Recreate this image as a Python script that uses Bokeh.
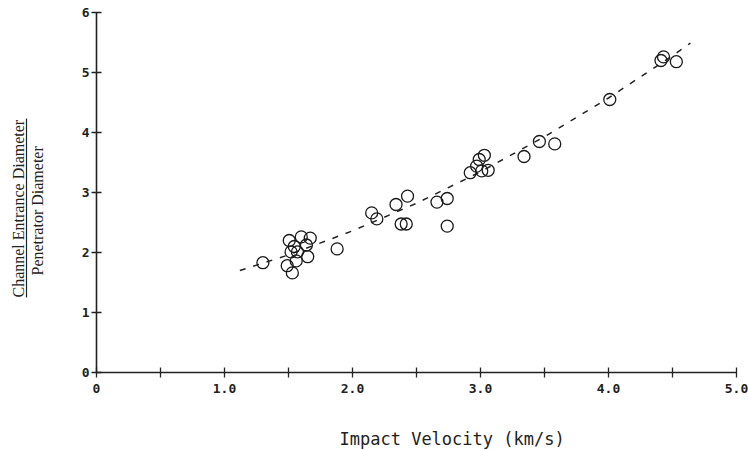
from bokeh.plotting import figure
from bokeh.models import Range1d, FixedTicker, PrintfTickFormatter, LinearAxis, Title
from bokeh.embed import file_html
from bokeh.resources import INLINE

# ---- data ----
velocity = [1.30, 1.49, 1.506, 1.52, 1.53, 1.545, 1.56, 1.57, 1.60, 1.64, 1.65, 1.67,
            1.88, 2.15, 2.19, 2.34, 2.38, 2.42, 2.43, 2.66, 2.74, 2.74,
            2.92, 2.97, 2.99, 3.03, 3.06, 3.01, 3.34, 3.46, 3.58, 4.01, 4.41, 4.43, 4.53]
ratio = [1.83, 1.78, 2.20, 2.01, 1.66, 2.10, 1.86, 2.01, 2.26, 2.125, 1.93, 2.24,
         2.06, 2.66, 2.56, 2.80, 2.475, 2.475, 2.94, 2.84, 2.90, 2.44,
         3.33, 3.44, 3.55, 3.62, 3.37, 3.36, 3.60, 3.85, 3.81, 4.55, 5.20, 5.26, 5.18]
fit_velocity = [1.12, 1.5, 2.0, 2.5, 3.0, 3.5, 4.0, 4.5, 4.64]
fit_ratio = [1.70, 1.96, 2.36, 2.82, 3.345, 3.93, 4.575, 5.28, 5.49]
x_major = [0, 1, 2, 3, 4, 5]
x_minor = [0.5, 1.5, 2.5, 3.5, 4.5]
y_major = [0, 1, 2, 3, 4, 5, 6]
x_label = "Impact Velocity (km/s)"
y_label_top = "Channel Entrance Diameter"
y_label_bottom = "Penetrator Diameter"

# ---- layout (pixels) ----
W, H = 748, 450
LEFT, RIGHT, TOP, BOTTOM = 96, 736, 12, 372
X0, X1, Y0, Y1 = 0, 5, 0, 6

p = figure(width=W, height=H, output_backend="svg", toolbar_location=None,
           x_range=Range1d(X0, X1), y_range=Range1d(Y0, Y1),
           min_border_left=LEFT, min_border_right=W - RIGHT,
           min_border_top=TOP, min_border_bottom=H - BOTTOM)
p.outline_line_color = None
p.grid.visible = False
p.background_fill_color = "white"
p.border_fill_color = "white"

def dy(py):
    return Y0 + (BOTTOM - py) * (Y1 - Y0) / (BOTTOM - TOP)

ink = "#222222"
tick_font = "DejaVu Sans Mono"

xa = p.xaxis[0]
xa.ticker = FixedTicker(ticks=x_major, minor_ticks=x_minor)
xa.formatter = PrintfTickFormatter(format="%.1f")
xa.major_label_overrides = {0: "0"}
xa.axis_line_color = ink
xa.axis_line_width = 1.6
xa.major_tick_line_color = ink
xa.minor_tick_line_color = ink
xa.major_tick_line_width = 1.3
xa.minor_tick_line_width = 1.3
xa.major_tick_in = 5
xa.major_tick_out = 5
xa.minor_tick_in = 5
xa.minor_tick_out = 5
xa.major_label_text_font = tick_font
xa.major_label_text_font_style = "bold"
xa.major_label_text_font_size = "13px"
xa.major_label_text_color = ink
xa.major_label_standoff = 6

ya = p.yaxis[0]
ya.ticker = FixedTicker(ticks=y_major)
ya.axis_line_color = ink
ya.axis_line_width = 1.6
ya.major_tick_line_color = ink
ya.major_tick_line_width = 1.3
ya.major_tick_in = 5
ya.major_tick_out = 5
ya.minor_tick_line_color = None
ya.major_label_text_font = tick_font
ya.major_label_text_font_style = "bold"
ya.major_label_text_font_size = "13px"
ya.major_label_text_color = ink
ya.major_label_standoff = 2

def spacer(size, at):
    # an invisible axis whose hidden tick length reserves a gap
    return LinearAxis(ticker=FixedTicker(ticks=[at]), major_tick_out=size, major_tick_in=0,
                      minor_tick_in=0, minor_tick_out=0, major_label_standoff=0,
                      major_label_text_font_size="0px", major_label_text_color=None,
                      major_tick_line_color=None, minor_tick_line_color=None,
                      axis_line_color=None)

def text_title(text, offset, standoff, font, size):
    return Title(text=text, align="left", offset=offset, standoff=standoff,
                 text_font=font, text_font_size=size, text_font_style="normal",
                 text_color=ink)

# gap between tick labels and the denominator
p.add_layout(spacer(33, 3), "left")
# denominator
p.add_layout(text_title(y_label_bottom, BOTTOM - 275, 0, "Liberation Serif", "16px"), "left")
# fraction bar: a bare axis line bounded to the label span
bar = LinearAxis(ticker=FixedTicker(ticks=[]), bounds=(dy(297), dy(118)),
                 major_tick_in=0, major_tick_out=0, minor_tick_in=0, minor_tick_out=0,
                 major_tick_line_color=None, minor_tick_line_color=None,
                 major_label_standoff=0, axis_line_color=ink, axis_line_width=1.2)
p.add_layout(bar, "left")
# numerator
p.add_layout(text_title(y_label_top, BOTTOM - 297, 0, "Liberation Serif", "16px"), "left")

# x title below a spacer
p.add_layout(spacer(31, 2.5), "below")
p.add_layout(text_title(x_label, 339 - LEFT, 0, "DejaVu Sans Mono", "17px"), "below")

# fitted curve
p.line(fit_velocity, fit_ratio, line_color=ink, line_width=1.5, line_dash="6 8")

# data points
p.scatter(velocity, ratio, marker="circle", size=12, fill_color=None,
          line_color="#1a1a1a", line_width=1.3)

open("out.html", "w").write(file_html(p, INLINE))
